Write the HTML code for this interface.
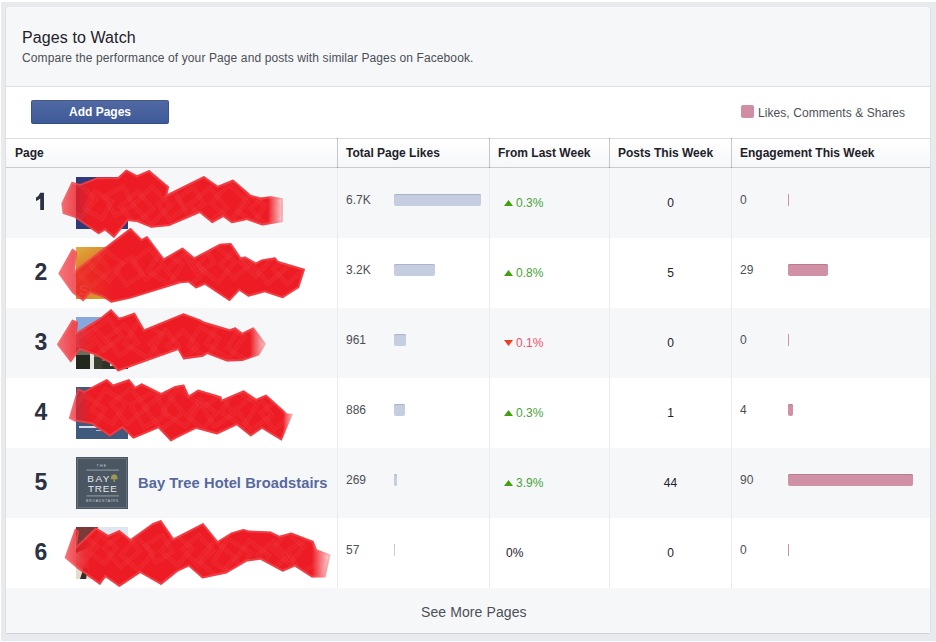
<!DOCTYPE html><html><head><meta charset="utf-8"><style>
*{margin:0;padding:0;box-sizing:border-box}
html,body{width:936px;height:642px;overflow:hidden;background:#fff;font-family:"Liberation Sans",sans-serif}
.a{position:absolute;white-space:nowrap}
.t{line-height:1}
</style></head><body><div class="a" style="left:1px;top:2px;width:935px;height:639px;background:#e9eaed"></div>
<div class="a" style="left:5px;top:6px;width:926px;height:628px;border:1px solid;border-color:#e5e6e9 #dfe0e4 #d0d1d5;border-radius:3px;background:#f6f7f9"></div>
<div class="a" style="left:6px;top:86px;width:924px;height:1px;background:#dddfe2"></div>
<div class="a" style="left:6px;top:87px;width:924px;height:51px;background:#fff"></div>
<div class="a t" style="left:22px;top:30px;font-size:16px;letter-spacing:0.1px;color:#1d2129">Pages to Watch</div>
<div class="a t" style="left:22px;top:52px;font-size:12px;letter-spacing:0.11px;color:#4b4f56">Compare the performance of your Page and posts with similar Pages on Facebook.</div>
<div class="a" style="left:31px;top:100px;width:138px;height:24px;border:1px solid;border-color:#435a8b #3c5488 #334c83;border-radius:2px;background:linear-gradient(#5069a3,#3f5a98)"></div>
<div class="a t" style="left:69px;top:106px;font-size:12px;font-weight:bold;color:#fff">Add Pages</div>
<div class="a" style="left:741px;top:105px;width:13px;height:13px;border-radius:2px;background:#d08da4"></div>
<div class="a t" style="left:758px;top:107px;font-size:12px;letter-spacing:0.07px;color:#4b4f56">Likes, Comments &amp; Shares</div>
<div class="a" style="left:6px;top:138px;width:924px;height:1px;background:#dcdee3"></div>
<div class="a" style="left:6px;top:139px;width:924px;height:28px;background:linear-gradient(#fff,#f6f7f9)"></div>
<div class="a" style="left:6px;top:167px;width:924px;height:1px;background:#c8cacf"></div>
<div class="a" style="left:337px;top:138px;width:1px;height:30px;background:#c6c7c9"></div>
<div class="a" style="left:337px;top:138px;width:1px;height:1px;background:#9c9da0"></div>
<div class="a" style="left:337px;top:167px;width:1px;height:1px;background:#9c9da0"></div>
<div class="a" style="left:489px;top:138px;width:1px;height:30px;background:#c6c7c9"></div>
<div class="a" style="left:489px;top:138px;width:1px;height:1px;background:#9c9da0"></div>
<div class="a" style="left:489px;top:167px;width:1px;height:1px;background:#9c9da0"></div>
<div class="a" style="left:609px;top:138px;width:1px;height:30px;background:#c6c7c9"></div>
<div class="a" style="left:609px;top:138px;width:1px;height:1px;background:#9c9da0"></div>
<div class="a" style="left:609px;top:167px;width:1px;height:1px;background:#9c9da0"></div>
<div class="a" style="left:731px;top:138px;width:1px;height:30px;background:#c6c7c9"></div>
<div class="a" style="left:731px;top:138px;width:1px;height:1px;background:#9c9da0"></div>
<div class="a" style="left:731px;top:167px;width:1px;height:1px;background:#9c9da0"></div>
<div class="a t" style="left:15px;top:147px;font-size:12px;font-weight:bold;color:#1d2129">Page</div>
<div class="a t" style="left:346px;top:147px;font-size:12px;font-weight:bold;color:#1d2129">Total Page Likes</div>
<div class="a t" style="left:498px;top:147px;font-size:12px;font-weight:bold;color:#1d2129">From Last Week</div>
<div class="a t" style="left:618px;top:147px;font-size:12px;font-weight:bold;color:#1d2129">Posts This Week</div>
<div class="a t" style="left:740px;top:147px;font-size:12px;font-weight:bold;color:#1d2129">Engagement This Week</div>
<div class="a" style="left:6px;top:168px;width:924px;height:70px;background:#f6f7f9"></div>
<div class="a" style="left:337px;top:168px;width:1px;height:70px;background:#e9ebee"></div>
<div class="a" style="left:489px;top:168px;width:1px;height:70px;background:#e9ebee"></div>
<div class="a" style="left:609px;top:168px;width:1px;height:70px;background:#e9ebee"></div>
<div class="a" style="left:731px;top:168px;width:1px;height:70px;background:#e9ebee"></div>
<svg class="a" style="left:30px;top:188px" width="20" height="26"><path d="M10.2,4.8 H14 V22 H10.2 V10.6 Q8.4,12.2 6,13 V9.4 Q9,8.2 10.2,4.8 Z" fill="#2b3243"/></svg>
<div class="a t" style="left:346px;top:194px;font-size:12px;color:#4b4f56">6.7K</div>
<div class="a" style="left:394px;top:194px;width:87px;height:12px;border-radius:2px;background:#c5cde0;box-shadow:inset 0 1px 0 #abb3c8"></div>
<svg class="a" style="left:503px;top:199px" width="12" height="9"><polygon points="1,7 10,7 5.5,1" fill="#42a00f"/></svg>
<div class="a t" style="left:516px;top:197px;font-size:12px;color:#48a23a">0.3%</div>
<div class="a t" style="left:610px;width:121px;text-align:center;top:197px;font-size:12px;color:#1d2129">0</div>
<div class="a t" style="left:740px;top:194px;font-size:12px;color:#4b4f56">0</div>
<div class="a" style="left:788px;top:194px;width:1px;height:12px;border-radius:0px;background:#d090a6;box-shadow:inset 0 1px 0 #d090a6"></div>
<div class="a" style="left:6px;top:238px;width:924px;height:70px;background:#fff"></div>
<div class="a" style="left:337px;top:238px;width:1px;height:70px;background:#e9ebee"></div>
<div class="a" style="left:489px;top:238px;width:1px;height:70px;background:#e9ebee"></div>
<div class="a" style="left:609px;top:238px;width:1px;height:70px;background:#e9ebee"></div>
<div class="a" style="left:731px;top:238px;width:1px;height:70px;background:#e9ebee"></div>
<div class="a t" style="left:30px;width:22px;text-align:center;top:261px;font-size:23px;font-weight:bold;color:#2b3243">2</div>
<div class="a t" style="left:346px;top:264px;font-size:12px;color:#4b4f56">3.2K</div>
<div class="a" style="left:394px;top:264px;width:41px;height:12px;border-radius:2px;background:#c5cde0;box-shadow:inset 0 1px 0 #abb3c8"></div>
<svg class="a" style="left:503px;top:269px" width="12" height="9"><polygon points="1,7 10,7 5.5,1" fill="#42a00f"/></svg>
<div class="a t" style="left:516px;top:267px;font-size:12px;color:#48a23a">0.8%</div>
<div class="a t" style="left:610px;width:121px;text-align:center;top:267px;font-size:12px;color:#1d2129">5</div>
<div class="a t" style="left:740px;top:264px;font-size:12px;color:#4b4f56">29</div>
<div class="a" style="left:788px;top:264px;width:40px;height:12px;border-radius:2px;background:#d090a6;box-shadow:inset 0 1px 0 #b87a92"></div>
<div class="a" style="left:6px;top:308px;width:924px;height:70px;background:#f6f7f9"></div>
<div class="a" style="left:337px;top:308px;width:1px;height:70px;background:#e9ebee"></div>
<div class="a" style="left:489px;top:308px;width:1px;height:70px;background:#e9ebee"></div>
<div class="a" style="left:609px;top:308px;width:1px;height:70px;background:#e9ebee"></div>
<div class="a" style="left:731px;top:308px;width:1px;height:70px;background:#e9ebee"></div>
<div class="a t" style="left:30px;width:22px;text-align:center;top:331px;font-size:23px;font-weight:bold;color:#2b3243">3</div>
<div class="a t" style="left:346px;top:334px;font-size:12px;color:#4b4f56">961</div>
<div class="a" style="left:394px;top:334px;width:12px;height:12px;border-radius:2px;background:#c5cde0;box-shadow:inset 0 1px 0 #abb3c8"></div>
<svg class="a" style="left:503px;top:339px" width="12" height="9"><polygon points="1,1 10,1 5.5,7" fill="#f03c1f"/></svg>
<div class="a t" style="left:516px;top:337px;font-size:12px;color:#f0506a">0.1%</div>
<div class="a t" style="left:610px;width:121px;text-align:center;top:337px;font-size:12px;color:#1d2129">0</div>
<div class="a t" style="left:740px;top:334px;font-size:12px;color:#4b4f56">0</div>
<div class="a" style="left:788px;top:334px;width:1px;height:12px;border-radius:0px;background:#d090a6;box-shadow:inset 0 1px 0 #d090a6"></div>
<div class="a" style="left:6px;top:378px;width:924px;height:70px;background:#fff"></div>
<div class="a" style="left:337px;top:378px;width:1px;height:70px;background:#e9ebee"></div>
<div class="a" style="left:489px;top:378px;width:1px;height:70px;background:#e9ebee"></div>
<div class="a" style="left:609px;top:378px;width:1px;height:70px;background:#e9ebee"></div>
<div class="a" style="left:731px;top:378px;width:1px;height:70px;background:#e9ebee"></div>
<div class="a t" style="left:30px;width:22px;text-align:center;top:401px;font-size:23px;font-weight:bold;color:#2b3243">4</div>
<div class="a t" style="left:346px;top:404px;font-size:12px;color:#4b4f56">886</div>
<div class="a" style="left:394px;top:404px;width:11px;height:12px;border-radius:2px;background:#c5cde0;box-shadow:inset 0 1px 0 #abb3c8"></div>
<svg class="a" style="left:503px;top:409px" width="12" height="9"><polygon points="1,7 10,7 5.5,1" fill="#42a00f"/></svg>
<div class="a t" style="left:516px;top:407px;font-size:12px;color:#48a23a">0.3%</div>
<div class="a t" style="left:610px;width:121px;text-align:center;top:407px;font-size:12px;color:#1d2129">1</div>
<div class="a t" style="left:740px;top:404px;font-size:12px;color:#4b4f56">4</div>
<div class="a" style="left:788px;top:404px;width:5px;height:12px;border-radius:2px;background:#d090a6;box-shadow:inset 0 1px 0 #b87a92"></div>
<div class="a" style="left:6px;top:448px;width:924px;height:70px;background:#f6f7f9"></div>
<div class="a" style="left:337px;top:448px;width:1px;height:70px;background:#e9ebee"></div>
<div class="a" style="left:489px;top:448px;width:1px;height:70px;background:#e9ebee"></div>
<div class="a" style="left:609px;top:448px;width:1px;height:70px;background:#e9ebee"></div>
<div class="a" style="left:731px;top:448px;width:1px;height:70px;background:#e9ebee"></div>
<div class="a t" style="left:30px;width:22px;text-align:center;top:471px;font-size:23px;font-weight:bold;color:#2b3243">5</div>
<div class="a t" style="left:346px;top:474px;font-size:12px;color:#4b4f56">269</div>
<div class="a" style="left:394px;top:474px;width:3px;height:12px;border-radius:2px;background:#c5cde0;box-shadow:inset 0 1px 0 #abb3c8"></div>
<svg class="a" style="left:503px;top:479px" width="12" height="9"><polygon points="1,7 10,7 5.5,1" fill="#42a00f"/></svg>
<div class="a t" style="left:516px;top:477px;font-size:12px;color:#48a23a">3.9%</div>
<div class="a t" style="left:610px;width:121px;text-align:center;top:477px;font-size:12px;color:#1d2129">44</div>
<div class="a t" style="left:740px;top:474px;font-size:12px;color:#4b4f56">90</div>
<div class="a" style="left:788px;top:474px;width:125px;height:12px;border-radius:2px;background:#d090a6;box-shadow:inset 0 1px 0 #b87a92"></div>
<div class="a" style="left:6px;top:518px;width:924px;height:70px;background:#fff"></div>
<div class="a" style="left:337px;top:518px;width:1px;height:70px;background:#e9ebee"></div>
<div class="a" style="left:489px;top:518px;width:1px;height:70px;background:#e9ebee"></div>
<div class="a" style="left:609px;top:518px;width:1px;height:70px;background:#e9ebee"></div>
<div class="a" style="left:731px;top:518px;width:1px;height:70px;background:#e9ebee"></div>
<div class="a t" style="left:30px;width:22px;text-align:center;top:541px;font-size:23px;font-weight:bold;color:#2b3243">6</div>
<div class="a t" style="left:346px;top:544px;font-size:12px;color:#4b4f56">57</div>
<div class="a" style="left:394px;top:544px;width:1px;height:12px;border-radius:2px;background:#c5cde0;box-shadow:inset 0 1px 0 #abb3c8"></div>
<div class="a t" style="left:506px;top:547px;font-size:12px;color:#1d2129">0%</div>
<div class="a t" style="left:610px;width:121px;text-align:center;top:547px;font-size:12px;color:#1d2129">0</div>
<div class="a t" style="left:740px;top:544px;font-size:12px;color:#4b4f56">0</div>
<div class="a" style="left:788px;top:544px;width:1px;height:12px;border-radius:0px;background:#d090a6;box-shadow:inset 0 1px 0 #d090a6"></div>
<svg class="a" style="left:76px;top:177px" width="52" height="52"><rect width="52" height="52" fill="#2e3a7a"/><path d="M24,6 L28,5 L31,13 L27,13 Z" fill="#fff"/></svg>
<svg class="a" style="left:76px;top:247px" width="52" height="52"><defs><linearGradient id="g2" x1="0" y1="0" x2="0.6" y2="1"><stop offset="0" stop-color="#dcb040"/><stop offset="0.5" stop-color="#e06a20"/><stop offset="1" stop-color="#d8a030"/></linearGradient></defs><rect width="52" height="52" fill="url(#g2)"/><text x="3" y="48" font-family="Liberation Sans" font-size="14" fill="#f0c8a0">S</text></svg>
<svg class="a" style="left:76px;top:317px" width="52" height="52"><rect width="52" height="30" fill="#86a8dc"/><rect y="30" width="52" height="22" fill="#6a6e60"/><rect x="0" y="38" width="14" height="14" fill="#22281c"/><rect x="14" y="34" width="4" height="18" fill="#e8e8e0"/><rect x="18" y="40" width="8" height="12" fill="#3a4030"/><rect x="26" y="44" width="26" height="8" fill="#30342a"/><rect x="34" y="46" width="6" height="3" fill="#d0d4d0"/></svg>
<svg class="a" style="left:76px;top:387px" width="52" height="52"><rect width="52" height="52" fill="#3f5a7d"/><rect x="3" y="39" width="40" height="2" fill="#d8dde5"/><rect x="20" y="43" width="14" height="1" fill="#b0bccb"/></svg>
<svg class="a" style="left:76px;top:527px" width="52" height="52"><rect width="52" height="52" fill="#dfe6f0"/><path d="M0,0 H22 L14,20 L0,26 Z" fill="#7a3a38"/><rect y="36" width="26" height="16" fill="#e4dccb"/><path d="M4,52 L8,40 L12,42 L10,52 Z" fill="#3a2a28"/></svg>
<svg class="a" style="left:76px;top:457px" width="52" height="52" viewBox="0 0 52 52">
<rect x="0" y="0" width="52" height="52" fill="#4b5663"/>
<rect x="1.5" y="1.5" width="49" height="49" fill="none" stroke="#66717c" stroke-width="1"/>
<text x="26" y="10.2" font-family="Liberation Sans" font-size="3.6" fill="#c9ced3" text-anchor="middle" letter-spacing="1.2">THE</text>
<rect x="10.5" y="12.5" width="32.5" height="1.2" fill="#8b949c"/>
<text x="11.2" y="24.8" font-family="Liberation Sans" font-size="9.95" fill="#e6e9ec" textLength="22.3" lengthAdjust="spacing">BAY</text>
<path d="M34.8,22.2 Q34.8,17.5 38.2,17.3 Q41.6,17.5 41.6,22.2 Z" fill="#a19850"/><rect x="37.6" y="21.5" width="1.3" height="3.5" fill="#a19850"/>
<text x="11.9" y="34.5" font-family="Liberation Sans" font-size="9.95" fill="#e6e9ec" textLength="29" lengthAdjust="spacing">TREE</text>
<rect x="10.5" y="38.3" width="32.5" height="1.2" fill="#8b949c"/>
<text x="26" y="44.6" font-family="Liberation Sans" font-size="3.4" fill="#c9ced3" text-anchor="middle" textLength="32" lengthAdjust="spacing">BROADSTAIRS</text>
</svg>
<div class="a t" style="left:138px;top:475.6px;font-size:14.7px;letter-spacing:0.07px;font-weight:bold;color:#56689e">Bay Tree Hotel Broadstairs</div>
<svg class="a" style="left:0;top:0" width="936" height="642" viewBox="0 0 936 642"><defs>
<linearGradient id="m0" gradientUnits="userSpaceOnUse" x1="0" x2="936" y1="0" y2="0"><stop offset="0.0641" stop-color="#ed1c24" stop-opacity="0.6"/><stop offset="0.0962" stop-color="#ed1c24" stop-opacity="1"/><stop offset="0.2863" stop-color="#ed1c24" stop-opacity="1"/><stop offset="0.3034" stop-color="#ed1c24" stop-opacity="0.05"/></linearGradient>
<linearGradient id="m1" gradientUnits="userSpaceOnUse" x1="0" x2="936" y1="0" y2="0"><stop offset="0.0609" stop-color="#ed1c24" stop-opacity="0.6"/><stop offset="0.1197" stop-color="#ed1c24" stop-opacity="1"/><stop offset="0.4274" stop-color="#ed1c24" stop-opacity="1"/><stop offset="0.4284" stop-color="#ed1c24" stop-opacity="0.05"/></linearGradient>
<linearGradient id="m2" gradientUnits="userSpaceOnUse" x1="0" x2="936" y1="0" y2="0"><stop offset="0.0598" stop-color="#ed1c24" stop-opacity="0.6"/><stop offset="0.0962" stop-color="#ed1c24" stop-opacity="1"/><stop offset="0.2671" stop-color="#ed1c24" stop-opacity="1"/><stop offset="0.2853" stop-color="#ed1c24" stop-opacity="0.05"/></linearGradient>
<linearGradient id="m3" gradientUnits="userSpaceOnUse" x1="0" x2="936" y1="0" y2="0"><stop offset="0.0726" stop-color="#ed1c24" stop-opacity="0.6"/><stop offset="0.0962" stop-color="#ed1c24" stop-opacity="1"/><stop offset="0.3024" stop-color="#ed1c24" stop-opacity="1"/><stop offset="0.3141" stop-color="#ed1c24" stop-opacity="0.05"/></linearGradient>
<linearGradient id="m4" gradientUnits="userSpaceOnUse" x1="0" x2="936" y1="0" y2="0"><stop offset="0.0684" stop-color="#ed1c24" stop-opacity="0.6"/><stop offset="0.0962" stop-color="#ed1c24" stop-opacity="1"/><stop offset="0.3333" stop-color="#ed1c24" stop-opacity="1"/><stop offset="0.3547" stop-color="#ed1c24" stop-opacity="0.05"/></linearGradient>
</defs>
<clipPath id="c0"><polygon points="61.4,203.5 71.7,181.7 80.0,184.0 97.3,177.2 117.8,177.2 126.2,169.5 137.0,175.3 149.2,170.1 169.1,186.8 167.5,194.0 203.9,176.1 217.8,185.8 233.1,179.6 251.1,194.9 260.8,197.6 270.6,196.3 283.0,198.3 283.0,221.9 262.2,225.4 246.9,219.9 231.7,223.3 223.3,217.1 212.2,223.3 199.7,212.9 169.2,226.1 151.2,227.8 137.0,222.0 128.0,221.0 114.0,238.0 105.0,230.4 98.6,234.2 74.2,217.6 62.7,213.7"/></clipPath>
<clipPath id="c1"><polygon points="58.3,273.6 72.2,248.6 77.0,252.0 75.0,270.0 130.6,227.8 141.7,238.9 147.2,236.1 163.9,258.3 182.5,247.4 194.4,257.2 219.9,243.7 231.1,242.9 240.8,257.2 245.3,256.4 255.8,262.4 261.7,259.4 275.2,257.2 278.2,260.9 305.1,269.1 299.1,287.8 282.7,298.3 264.7,292.3 248.3,296.8 239.3,290.8 229.6,301.3 204.9,284.8 195.9,288.6 188.5,282.6 180.0,283.3 130.6,298.6 111.1,302.8 102.8,297.2 90.3,293.0 83.3,301.4 72.2,293.0"/></clipPath>
<clipPath id="c2"><polygon points="56.9,344.4 72.2,319.4 78.0,322.0 77.0,332.0 100.0,318.0 111.1,309.0 119.4,318.0 134.7,312.5 144.4,329.2 183.4,313.2 200.2,319.5 203.7,321.6 229.7,329.3 235.3,327.2 242.3,332.8 253.5,327.2 266.1,344.0 259.1,355.3 242.3,360.9 226.9,361.6 207.2,353.9 203.0,356.7 183.4,359.5 178.0,350.0 127.8,368.0 118.0,371.5 111.1,363.9 95.0,355.0 80.0,350.0 70.8,362.5"/></clipPath>
<clipPath id="c3"><polygon points="68.8,418.6 77.8,388.0 84.0,391.0 106.9,379.0 113.2,384.6 129.2,379.0 135.4,386.7 141.7,383.2 161.1,392.9 175.0,386.0 184.1,384.6 189.0,395.2 198.1,389.5 221.3,396.6 222.0,399.4 243.7,390.2 256.3,398.7 266.2,394.5 287.2,413.4 292.8,414.1 281.6,440.7 262.0,428.8 250.7,436.5 236.7,425.3 217.1,434.4 196.0,428.8 178.0,437.5 170.8,441.5 158.3,428.3 133.3,438.8 122.2,428.3 109.7,436.7 91.7,424.2 75.0,421.4"/></clipPath>
<clipPath id="c4"><polygon points="64.6,557.8 75.0,528.6 79.0,531.0 77.0,545.3 95.8,527.2 108.3,534.9 119.4,530.0 130.6,539.0 152.8,523.0 161.1,520.0 173.6,538.3 203.2,523.0 217.7,540.9 231.4,532.4 243.4,528.9 248.5,530.6 270.7,531.5 279.3,535.8 291.2,532.4 313.5,540.9 316.9,549.4 330.6,554.6 325.4,577.6 311.8,577.6 294.7,566.5 282.7,571.7 260.5,559.7 246.8,561.4 226.3,573.4 202.4,578.5 188.7,566.5 178.0,571.5 161.1,584.9 140.3,573.0 119.4,587.0 105.6,577.2 100.0,584.9 77.8,568.9"/></clipPath>
<polygon points="61.4,203.5 71.7,181.7 80.0,184.0 97.3,177.2 117.8,177.2 126.2,169.5 137.0,175.3 149.2,170.1 169.1,186.8 167.5,194.0 203.9,176.1 217.8,185.8 233.1,179.6 251.1,194.9 260.8,197.6 270.6,196.3 283.0,198.3 283.0,221.9 262.2,225.4 246.9,219.9 231.7,223.3 223.3,217.1 212.2,223.3 199.7,212.9 169.2,226.1 151.2,227.8 137.0,222.0 128.0,221.0 114.0,238.0 105.0,230.4 98.6,234.2 74.2,217.6 62.7,213.7" fill="url(#m0)"/>
<polygon points="61.4,203.5 71.7,181.7 80.0,184.0 97.3,177.2 117.8,177.2 126.2,169.5 137.0,175.3 149.2,170.1 169.1,186.8 167.5,194.0 203.9,176.1 217.8,185.8 233.1,179.6 251.1,194.9 260.8,197.6 270.6,196.3 283.0,198.3 283.0,221.9 262.2,225.4 246.9,219.9 231.7,223.3 223.3,217.1 212.2,223.3 199.7,212.9 169.2,226.1 151.2,227.8 137.0,222.0 128.0,221.0 114.0,238.0 105.0,230.4 98.6,234.2 74.2,217.6 62.7,213.7" fill="none" stroke="#f7777b" stroke-opacity="0.35" stroke-width="4" clip-path="url(#c0)"/>
<g clip-path="url(#c0)" fill="none" stroke="#f46a70" stroke-opacity="0.12" stroke-width="2"><rect x="66.2" y="187.4" width="26.4" height="26.4" transform="rotate(41 79.4 200.6)"/><rect x="68.7" y="189.9" width="21.4" height="21.4" transform="rotate(41 79.4 200.6)"/><rect x="87.0" y="194.0" width="22.5" height="22.5" transform="rotate(30 98.2 205.3)"/><rect x="89.5" y="196.5" width="17.5" height="17.5" transform="rotate(30 98.2 205.3)"/><rect x="107.0" y="188.9" width="23.9" height="23.9" transform="rotate(60 118.9 200.9)"/><rect x="109.5" y="191.4" width="18.9" height="18.9" transform="rotate(60 118.9 200.9)"/><rect x="123.8" y="194.9" width="25.8" height="25.8" transform="rotate(49 136.7 207.8)"/><rect x="126.3" y="197.4" width="20.8" height="20.8" transform="rotate(49 136.7 207.8)"/><rect x="137.4" y="190.9" width="28.9" height="28.9" transform="rotate(46 151.9 205.4)"/><rect x="139.9" y="193.4" width="23.9" height="23.9" transform="rotate(46 151.9 205.4)"/><rect x="160.6" y="194.6" width="22.5" height="22.5" transform="rotate(53 171.8 205.8)"/><rect x="163.1" y="197.1" width="17.5" height="17.5" transform="rotate(53 171.8 205.8)"/><rect x="179.4" y="190.2" width="22.2" height="22.2" transform="rotate(56 190.6 201.4)"/><rect x="181.9" y="192.7" width="17.2" height="17.2" transform="rotate(56 190.6 201.4)"/><rect x="193.8" y="191.9" width="29.0" height="29.0" transform="rotate(51 208.3 206.4)"/><rect x="196.3" y="194.4" width="24.0" height="24.0" transform="rotate(51 208.3 206.4)"/><rect x="215.5" y="188.3" width="28.4" height="28.4" transform="rotate(43 229.7 202.5)"/><rect x="218.0" y="190.8" width="23.4" height="23.4" transform="rotate(43 229.7 202.5)"/><rect x="239.8" y="196.9" width="22.8" height="22.8" transform="rotate(34 251.2 208.3)"/><rect x="242.3" y="199.4" width="17.8" height="17.8" transform="rotate(34 251.2 208.3)"/><rect x="254.2" y="196.6" width="25.5" height="25.5" transform="rotate(49 266.9 209.3)"/><rect x="256.7" y="199.1" width="20.5" height="20.5" transform="rotate(49 266.9 209.3)"/></g>
<polygon points="58.3,273.6 72.2,248.6 77.0,252.0 75.0,270.0 130.6,227.8 141.7,238.9 147.2,236.1 163.9,258.3 182.5,247.4 194.4,257.2 219.9,243.7 231.1,242.9 240.8,257.2 245.3,256.4 255.8,262.4 261.7,259.4 275.2,257.2 278.2,260.9 305.1,269.1 299.1,287.8 282.7,298.3 264.7,292.3 248.3,296.8 239.3,290.8 229.6,301.3 204.9,284.8 195.9,288.6 188.5,282.6 180.0,283.3 130.6,298.6 111.1,302.8 102.8,297.2 90.3,293.0 83.3,301.4 72.2,293.0" fill="url(#m1)"/>
<polygon points="58.3,273.6 72.2,248.6 77.0,252.0 75.0,270.0 130.6,227.8 141.7,238.9 147.2,236.1 163.9,258.3 182.5,247.4 194.4,257.2 219.9,243.7 231.1,242.9 240.8,257.2 245.3,256.4 255.8,262.4 261.7,259.4 275.2,257.2 278.2,260.9 305.1,269.1 299.1,287.8 282.7,298.3 264.7,292.3 248.3,296.8 239.3,290.8 229.6,301.3 204.9,284.8 195.9,288.6 188.5,282.6 180.0,283.3 130.6,298.6 111.1,302.8 102.8,297.2 90.3,293.0 83.3,301.4 72.2,293.0" fill="none" stroke="#f7777b" stroke-opacity="0.35" stroke-width="4" clip-path="url(#c1)"/>
<g clip-path="url(#c1)" fill="none" stroke="#f46a70" stroke-opacity="0.12" stroke-width="2"><rect x="63.6" y="253.4" width="25.4" height="25.4" transform="rotate(47 76.3 266.2)"/><rect x="66.1" y="255.9" width="20.4" height="20.4" transform="rotate(47 76.3 266.2)"/><rect x="77.7" y="254.8" width="28.6" height="28.6" transform="rotate(50 91.9 269.1)"/><rect x="80.2" y="257.3" width="23.6" height="23.6" transform="rotate(50 91.9 269.1)"/><rect x="94.9" y="253.2" width="24.6" height="24.6" transform="rotate(37 107.2 265.5)"/><rect x="97.4" y="255.7" width="19.6" height="19.6" transform="rotate(37 107.2 265.5)"/><rect x="117.7" y="260.1" width="22.4" height="22.4" transform="rotate(56 128.9 271.3)"/><rect x="120.2" y="262.6" width="17.4" height="17.4" transform="rotate(56 128.9 271.3)"/><rect x="135.5" y="251.7" width="24.3" height="24.3" transform="rotate(50 147.7 263.9)"/><rect x="138.0" y="254.2" width="19.3" height="19.3" transform="rotate(50 147.7 263.9)"/><rect x="151.7" y="253.9" width="27.3" height="27.3" transform="rotate(34 165.3 267.5)"/><rect x="154.2" y="256.4" width="22.3" height="22.3" transform="rotate(34 165.3 267.5)"/><rect x="170.6" y="256.2" width="29.8" height="29.8" transform="rotate(48 185.5 271.1)"/><rect x="173.1" y="258.7" width="24.8" height="24.8" transform="rotate(48 185.5 271.1)"/><rect x="188.3" y="247.8" width="23.1" height="23.1" transform="rotate(58 199.8 259.3)"/><rect x="190.8" y="250.3" width="18.1" height="18.1" transform="rotate(58 199.8 259.3)"/><rect x="201.7" y="249.1" width="29.2" height="29.2" transform="rotate(39 216.3 263.7)"/><rect x="204.2" y="251.6" width="24.2" height="24.2" transform="rotate(39 216.3 263.7)"/><rect x="223.4" y="253.3" width="22.5" height="22.5" transform="rotate(48 234.6 264.5)"/><rect x="225.9" y="255.8" width="17.5" height="17.5" transform="rotate(48 234.6 264.5)"/><rect x="243.5" y="249.3" width="23.8" height="23.8" transform="rotate(42 255.4 261.2)"/><rect x="246.0" y="251.8" width="18.8" height="18.8" transform="rotate(42 255.4 261.2)"/><rect x="255.4" y="251.0" width="28.5" height="28.5" transform="rotate(50 269.7 265.3)"/><rect x="257.9" y="253.5" width="23.5" height="23.5" transform="rotate(50 269.7 265.3)"/><rect x="276.4" y="258.0" width="23.2" height="23.2" transform="rotate(47 288.0 269.6)"/><rect x="278.9" y="260.5" width="18.2" height="18.2" transform="rotate(47 288.0 269.6)"/></g>
<polygon points="56.9,344.4 72.2,319.4 78.0,322.0 77.0,332.0 100.0,318.0 111.1,309.0 119.4,318.0 134.7,312.5 144.4,329.2 183.4,313.2 200.2,319.5 203.7,321.6 229.7,329.3 235.3,327.2 242.3,332.8 253.5,327.2 266.1,344.0 259.1,355.3 242.3,360.9 226.9,361.6 207.2,353.9 203.0,356.7 183.4,359.5 178.0,350.0 127.8,368.0 118.0,371.5 111.1,363.9 95.0,355.0 80.0,350.0 70.8,362.5" fill="url(#m2)"/>
<polygon points="56.9,344.4 72.2,319.4 78.0,322.0 77.0,332.0 100.0,318.0 111.1,309.0 119.4,318.0 134.7,312.5 144.4,329.2 183.4,313.2 200.2,319.5 203.7,321.6 229.7,329.3 235.3,327.2 242.3,332.8 253.5,327.2 266.1,344.0 259.1,355.3 242.3,360.9 226.9,361.6 207.2,353.9 203.0,356.7 183.4,359.5 178.0,350.0 127.8,368.0 118.0,371.5 111.1,363.9 95.0,355.0 80.0,350.0 70.8,362.5" fill="none" stroke="#f7777b" stroke-opacity="0.35" stroke-width="4" clip-path="url(#c2)"/>
<g clip-path="url(#c2)" fill="none" stroke="#f46a70" stroke-opacity="0.12" stroke-width="2"><rect x="60.7" y="326.3" width="28.5" height="28.5" transform="rotate(59 74.9 340.5)"/><rect x="63.2" y="328.8" width="23.5" height="23.5" transform="rotate(59 74.9 340.5)"/><rect x="77.4" y="329.6" width="27.6" height="27.6" transform="rotate(50 91.2 343.4)"/><rect x="79.9" y="332.1" width="22.6" height="22.6" transform="rotate(50 91.2 343.4)"/><rect x="93.6" y="322.0" width="25.1" height="25.1" transform="rotate(52 106.1 334.6)"/><rect x="96.1" y="324.5" width="20.1" height="20.1" transform="rotate(52 106.1 334.6)"/><rect x="109.8" y="328.0" width="24.5" height="24.5" transform="rotate(55 122.1 340.3)"/><rect x="112.3" y="330.5" width="19.5" height="19.5" transform="rotate(55 122.1 340.3)"/><rect x="128.7" y="324.1" width="30.0" height="30.0" transform="rotate(32 143.7 339.1)"/><rect x="131.2" y="326.6" width="25.0" height="25.0" transform="rotate(32 143.7 339.1)"/><rect x="152.6" y="333.2" width="23.2" height="23.2" transform="rotate(51 164.2 344.8)"/><rect x="155.1" y="335.7" width="18.2" height="18.2" transform="rotate(51 164.2 344.8)"/><rect x="170.8" y="333.9" width="23.7" height="23.7" transform="rotate(46 182.7 345.7)"/><rect x="173.3" y="336.4" width="18.7" height="18.7" transform="rotate(46 182.7 345.7)"/><rect x="191.5" y="329.7" width="24.5" height="24.5" transform="rotate(32 203.7 341.9)"/><rect x="194.0" y="332.2" width="19.5" height="19.5" transform="rotate(32 203.7 341.9)"/><rect x="210.2" y="325.0" width="30.0" height="30.0" transform="rotate(34 225.2 339.9)"/><rect x="212.7" y="327.5" width="25.0" height="25.0" transform="rotate(34 225.2 339.9)"/><rect x="231.0" y="329.3" width="29.4" height="29.4" transform="rotate(31 245.7 344.0)"/><rect x="233.5" y="331.8" width="24.4" height="24.4" transform="rotate(31 245.7 344.0)"/></g>
<polygon points="68.8,418.6 77.8,388.0 84.0,391.0 106.9,379.0 113.2,384.6 129.2,379.0 135.4,386.7 141.7,383.2 161.1,392.9 175.0,386.0 184.1,384.6 189.0,395.2 198.1,389.5 221.3,396.6 222.0,399.4 243.7,390.2 256.3,398.7 266.2,394.5 287.2,413.4 292.8,414.1 281.6,440.7 262.0,428.8 250.7,436.5 236.7,425.3 217.1,434.4 196.0,428.8 178.0,437.5 170.8,441.5 158.3,428.3 133.3,438.8 122.2,428.3 109.7,436.7 91.7,424.2 75.0,421.4" fill="url(#m3)"/>
<polygon points="68.8,418.6 77.8,388.0 84.0,391.0 106.9,379.0 113.2,384.6 129.2,379.0 135.4,386.7 141.7,383.2 161.1,392.9 175.0,386.0 184.1,384.6 189.0,395.2 198.1,389.5 221.3,396.6 222.0,399.4 243.7,390.2 256.3,398.7 266.2,394.5 287.2,413.4 292.8,414.1 281.6,440.7 262.0,428.8 250.7,436.5 236.7,425.3 217.1,434.4 196.0,428.8 178.0,437.5 170.8,441.5 158.3,428.3 133.3,438.8 122.2,428.3 109.7,436.7 91.7,424.2 75.0,421.4" fill="none" stroke="#f7777b" stroke-opacity="0.35" stroke-width="4" clip-path="url(#c3)"/>
<g clip-path="url(#c3)" fill="none" stroke="#f46a70" stroke-opacity="0.12" stroke-width="2"><rect x="72.4" y="398.4" width="28.7" height="28.7" transform="rotate(35 86.8 412.8)"/><rect x="74.9" y="400.9" width="23.7" height="23.7" transform="rotate(35 86.8 412.8)"/><rect x="95.1" y="392.9" width="27.4" height="27.4" transform="rotate(33 108.7 406.6)"/><rect x="97.6" y="395.4" width="22.4" height="22.4" transform="rotate(33 108.7 406.6)"/><rect x="115.0" y="392.2" width="27.7" height="27.7" transform="rotate(52 128.8 406.1)"/><rect x="117.5" y="394.7" width="22.7" height="22.7" transform="rotate(52 128.8 406.1)"/><rect x="134.5" y="395.1" width="28.9" height="28.9" transform="rotate(60 148.9 409.5)"/><rect x="137.0" y="397.6" width="23.9" height="23.9" transform="rotate(60 148.9 409.5)"/><rect x="149.0" y="395.6" width="29.7" height="29.7" transform="rotate(52 163.9 410.5)"/><rect x="151.5" y="398.1" width="24.7" height="24.7" transform="rotate(52 163.9 410.5)"/><rect x="166.6" y="393.1" width="29.6" height="29.6" transform="rotate(33 181.4 407.9)"/><rect x="169.1" y="395.6" width="24.6" height="24.6" transform="rotate(33 181.4 407.9)"/><rect x="189.9" y="402.7" width="23.3" height="23.3" transform="rotate(40 201.5 414.4)"/><rect x="192.4" y="405.2" width="18.3" height="18.3" transform="rotate(40 201.5 414.4)"/><rect x="205.5" y="398.3" width="24.9" height="24.9" transform="rotate(57 217.9 410.8)"/><rect x="208.0" y="400.8" width="19.9" height="19.9" transform="rotate(57 217.9 410.8)"/><rect x="224.7" y="393.5" width="29.2" height="29.2" transform="rotate(32 239.3 408.0)"/><rect x="227.2" y="396.0" width="24.2" height="24.2" transform="rotate(32 239.3 408.0)"/><rect x="239.9" y="398.0" width="28.4" height="28.4" transform="rotate(55 254.1 412.2)"/><rect x="242.4" y="400.5" width="23.4" height="23.4" transform="rotate(55 254.1 412.2)"/><rect x="264.0" y="402.5" width="24.1" height="24.1" transform="rotate(52 276.0 414.6)"/><rect x="266.5" y="405.0" width="19.1" height="19.1" transform="rotate(52 276.0 414.6)"/></g>
<polygon points="64.6,557.8 75.0,528.6 79.0,531.0 77.0,545.3 95.8,527.2 108.3,534.9 119.4,530.0 130.6,539.0 152.8,523.0 161.1,520.0 173.6,538.3 203.2,523.0 217.7,540.9 231.4,532.4 243.4,528.9 248.5,530.6 270.7,531.5 279.3,535.8 291.2,532.4 313.5,540.9 316.9,549.4 330.6,554.6 325.4,577.6 311.8,577.6 294.7,566.5 282.7,571.7 260.5,559.7 246.8,561.4 226.3,573.4 202.4,578.5 188.7,566.5 178.0,571.5 161.1,584.9 140.3,573.0 119.4,587.0 105.6,577.2 100.0,584.9 77.8,568.9" fill="url(#m4)"/>
<polygon points="64.6,557.8 75.0,528.6 79.0,531.0 77.0,545.3 95.8,527.2 108.3,534.9 119.4,530.0 130.6,539.0 152.8,523.0 161.1,520.0 173.6,538.3 203.2,523.0 217.7,540.9 231.4,532.4 243.4,528.9 248.5,530.6 270.7,531.5 279.3,535.8 291.2,532.4 313.5,540.9 316.9,549.4 330.6,554.6 325.4,577.6 311.8,577.6 294.7,566.5 282.7,571.7 260.5,559.7 246.8,561.4 226.3,573.4 202.4,578.5 188.7,566.5 178.0,571.5 161.1,584.9 140.3,573.0 119.4,587.0 105.6,577.2 100.0,584.9 77.8,568.9" fill="none" stroke="#f7777b" stroke-opacity="0.35" stroke-width="4" clip-path="url(#c4)"/>
<g clip-path="url(#c4)" fill="none" stroke="#f46a70" stroke-opacity="0.12" stroke-width="2"><rect x="71.2" y="536.2" width="22.9" height="22.9" transform="rotate(42 82.6 547.6)"/><rect x="73.7" y="538.7" width="17.9" height="17.9" transform="rotate(42 82.6 547.6)"/><rect x="90.6" y="537.7" width="22.9" height="22.9" transform="rotate(37 102.1 549.2)"/><rect x="93.1" y="540.2" width="17.9" height="17.9" transform="rotate(37 102.1 549.2)"/><rect x="108.2" y="535.3" width="27.9" height="27.9" transform="rotate(50 122.1 549.3)"/><rect x="110.7" y="537.8" width="22.9" height="22.9" transform="rotate(50 122.1 549.3)"/><rect x="124.4" y="541.1" width="25.6" height="25.6" transform="rotate(42 137.2 553.9)"/><rect x="126.9" y="543.6" width="20.6" height="20.6" transform="rotate(42 137.2 553.9)"/><rect x="148.1" y="537.5" width="22.2" height="22.2" transform="rotate(58 159.2 548.6)"/><rect x="150.6" y="540.0" width="17.2" height="17.2" transform="rotate(58 159.2 548.6)"/><rect x="164.1" y="537.6" width="24.6" height="24.6" transform="rotate(41 176.4 549.9)"/><rect x="166.6" y="540.1" width="19.6" height="19.6" transform="rotate(41 176.4 549.9)"/><rect x="186.2" y="538.2" width="23.7" height="23.7" transform="rotate(48 198.1 550.0)"/><rect x="188.7" y="540.7" width="18.7" height="18.7" transform="rotate(48 198.1 550.0)"/><rect x="202.1" y="544.6" width="28.7" height="28.7" transform="rotate(41 216.4 558.9)"/><rect x="204.6" y="547.1" width="23.7" height="23.7" transform="rotate(41 216.4 558.9)"/><rect x="217.1" y="542.6" width="29.9" height="29.9" transform="rotate(31 232.1 557.5)"/><rect x="219.6" y="545.1" width="24.9" height="24.9" transform="rotate(31 232.1 557.5)"/><rect x="238.3" y="544.3" width="27.2" height="27.2" transform="rotate(37 251.9 557.9)"/><rect x="240.8" y="546.8" width="22.2" height="22.2" transform="rotate(37 251.9 557.9)"/><rect x="260.5" y="544.5" width="23.6" height="23.6" transform="rotate(49 272.3 556.3)"/><rect x="263.0" y="547.0" width="18.6" height="18.6" transform="rotate(49 272.3 556.3)"/><rect x="275.7" y="535.7" width="24.7" height="24.7" transform="rotate(40 288.1 548.0)"/><rect x="278.2" y="538.2" width="19.7" height="19.7" transform="rotate(40 288.1 548.0)"/><rect x="290.9" y="540.9" width="28.7" height="28.7" transform="rotate(59 305.2 555.3)"/><rect x="293.4" y="543.4" width="23.7" height="23.7" transform="rotate(59 305.2 555.3)"/></g>
</svg>
<div class="a" style="left:6px;top:588px;width:924px;height:45px;background:#f6f7f9"></div>
<div class="a t" style="left:421px;top:605px;font-size:14px;letter-spacing:0.1px;color:#4b4f56">See More Pages</div></body></html>
